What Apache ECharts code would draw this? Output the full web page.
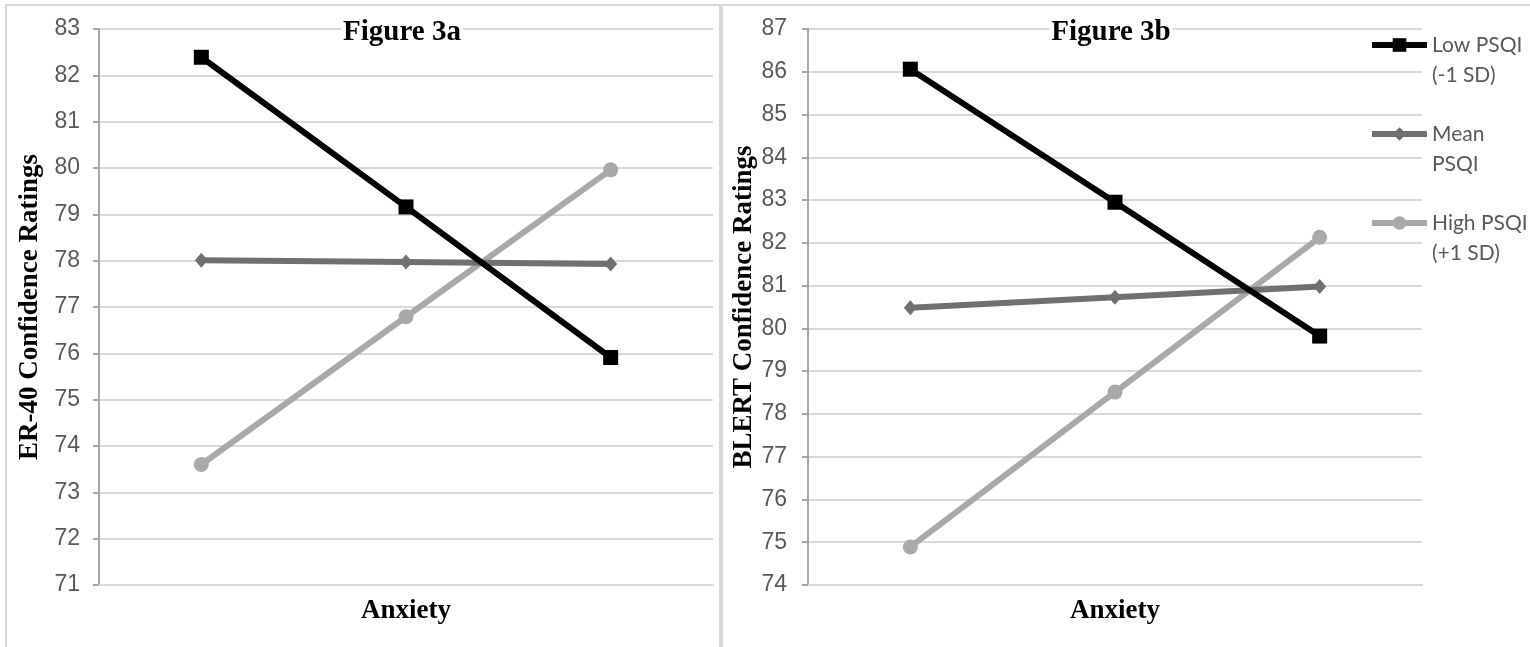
<!DOCTYPE html>
<html>
<head>
<meta charset="utf-8">
<script src="https://cdn.jsdelivr.net/npm/echarts@6/dist/echarts.min.js"></script>
<style>html,body{margin:0;padding:0;background:#fff;}#c{width:1530px;height:647px;}</style>
</head>
<body>
<div id="c"></div>
<script>
const categories = ['-1 SD', 'Mean', '+1 SD'];
const seriesNames = ['Low PSQI (-1 SD)', 'Mean PSQI', 'High PSQI (+1 SD)'];
const legendLabels = ['Low PSQI\n(-1 SD)', 'Mean\nPSQI', 'High PSQI\n(+1 SD)'];
// Figure 3a (ER-40)
const er40Low = [82.39, 79.16, 75.91];
const er40Mean = [78.01, 77.97, 77.93];
const er40High = [73.60, 76.79, 79.96];
// Figure 3b (BLERT)
const blertLow = [86.06, 82.95, 79.82];
const blertMean = [80.48, 80.73, 80.98];
const blertHigh = [74.89, 78.51, 82.13];
const er40Axis = {min: 71, max: 83, interval: 1};
const blertAxis = {min: 74, max: 87, interval: 1};

const chart = echarts.init(document.getElementById('c'));
const serif = 'Liberation Serif';
const styles = [
  {color: '#000000', symbol: 'rect', size: 15, width: 6},
  {color: '#707070', symbol: 'diamond', size: [13, 15], width: 6},
  {color: '#a9a9a9', symbol: 'circle', size: 15, width: 6}
];
function mkSeries(data, idx, axisIdx) {
  const s = styles[idx];
  return {
    type: 'line', name: seriesNames[idx], xAxisIndex: axisIdx, yAxisIndex: axisIdx,
    data: data, symbol: s.symbol, symbolSize: s.size, showSymbol: true,
    lineStyle: {color: s.color, width: s.width}, itemStyle: {color: s.color},
    emphasis: {disabled: true},
    animation: false, z: 3 + (2 - idx)
  };
}
function mkY(ax, name, gap, margin) {
  return {
    type: 'value', gridIndex: gap.grid, min: ax.min, max: ax.max, interval: ax.interval,
    name: name, nameLocation: 'middle', nameGap: gap.g, nameRotate: 90,
    nameTextStyle: {fontFamily: serif, fontWeight: 'bold', fontSize: 27, color: '#000'},
    axisLine: {show: true, lineStyle: {color: '#a6a6a6', width: 2}},
    axisTick: {show: true, length: 6, lineStyle: {color: '#a6a6a6', width: 2}},
    axisLabel: {fontFamily: 'Liberation Sans', fontSize: 23, color: '#595959', margin: margin},
    splitLine: {lineStyle: {color: '#d9d9d9', width: 2}}
  };
}
function mkX(grid) {
  return {
    type: 'category', gridIndex: grid, data: categories, boundaryGap: true,
    name: 'Anxiety', nameLocation: 'middle', nameGap: 13,
    nameTextStyle: {fontFamily: serif, fontWeight: 'bold', fontSize: 27, color: '#000'},
    axisLine: {show: true, lineStyle: {color: '#d9d9d9', width: 2}},
    axisTick: {show: false}, axisLabel: {show: false}, splitLine: {show: false}
  };
}
chart.setOption({
  backgroundColor: '#fff',
  animation: false,
  graphic: [
    {type: 'rect', shape: {x: 6, y: 5, width: 714, height: 700}, style: {fill: 'none', stroke: '#d9d9d9', lineWidth: 2}, z: -10},
    {type: 'rect', shape: {x: 722, y: 5, width: 900, height: 700}, style: {fill: 'none', stroke: '#d9d9d9', lineWidth: 2}, z: -10}
  ],
  title: [
    {text: 'Figure 3a', left: 400, top: 18, textAlign: 'center', padding: [0, 2], backgroundColor: '#fff',
     textStyle: {fontFamily: serif, fontWeight: 'bold', fontSize: 29, color: '#000'}},
    {text: 'Figure 3b', left: 1109, top: 18, textAlign: 'center', padding: [0, 2], backgroundColor: '#fff',
     textStyle: {fontFamily: serif, fontWeight: 'bold', fontSize: 29, color: '#000'}}
  ],
  legend: {
    data: seriesNames, orient: 'vertical', left: 1364, top: -5, itemWidth: 55, itemHeight: 17, itemGap: -1,
    lineStyle: {width: 6},
    formatter: function (n) { return '\n' + legendLabels[seriesNames.indexOf(n)]; },
    textStyle: {fontFamily: 'Lato', fontSize: 21, color: '#595959', lineHeight: 30}
  },
  grid: [
    {left: 99, right: 1530 - 713, top: 29, bottom: 647 - 585},
    {left: 808, right: 1530 - 1422, top: 29, bottom: 647 - 585}
  ],
  xAxis: [mkX(0), mkX(1)],
  yAxis: [
    mkY(er40Axis, 'ER-40 Confidence Ratings', {grid: 0, g: 55}, 19),
    mkY(blertAxis, 'BLERT Confidence Ratings', {grid: 1, g: 49}, 21)
  ],
  series: [
    mkSeries(er40Low, 0, 0), mkSeries(er40Mean, 1, 0), mkSeries(er40High, 2, 0),
    mkSeries(blertLow, 0, 1), mkSeries(blertMean, 1, 1), mkSeries(blertHigh, 2, 1)
  ]
});
</script>
</body>
</html>
